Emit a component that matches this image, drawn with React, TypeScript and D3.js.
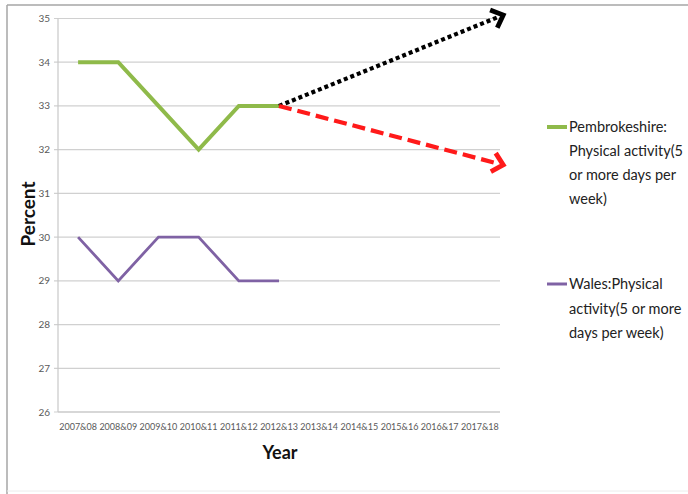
import React from "react";
import * as d3 from "d3";

const categories = ["2007&08","2008&09","2009&10","2010&11","2011&12","2012&13","2013&14","2014&15","2015&16","2016&17","2017&18"];
const pembrokeshire = [34, 34, 33, 32, 33, 33];
const wales = [30, 29, 30, 30, 29, 29];
const yTicks = [26, 27, 28, 29, 30, 31, 32, 33, 34, 35];
const projectionHigh = [33, 35.08];
const projectionLow = [33, 31.65];
const legendPembs = ["Pembrokeshire:", "Physical activity(5", "or more days per", "week)"];
const legendWales = ["Wales:Physical", "activity(5 or more", "days per week)"];

const W = 688, H = 494;
const plot = { left: 58, right: 500, top: 18.5, bottom: 412 };
const FONT = "Lato, 'Open Sans', sans-serif";

export default function App() {
  const x = d3.scaleBand<string>().domain(categories).range([plot.left, plot.right]).padding(0);
  const bw = x.bandwidth();
  const cx = (c: string) => (x(c) as number) + bw / 2;
  const y = d3.scaleLinear().domain([26, 35]).range([plot.bottom, plot.top]);

  const line = d3.line<number>().x((_, i) => cx(categories[i])).y((d) => y(d));

  const startCat = categories[pembrokeshire.length - 1];
  const endX = cx(categories[categories.length - 1]) + bw * 0.58;

  const arrow = (vals: number[], color: string, dash: string, key: string) => {
    const x0 = cx(startCat), y0 = y(vals[0]);
    const x1 = endX, y1 = y(vals[1]);
    const ang = Math.atan2(y1 - y0, x1 - x0);
    const len = 14, spread = Math.PI / 4.2;
    const a1x = x1 - len * Math.cos(ang - spread), a1y = y1 - len * Math.sin(ang - spread);
    const a2x = x1 - len * Math.cos(ang + spread), a2y = y1 - len * Math.sin(ang + spread);
    const sx = x1 - 4 * Math.cos(ang), sy = y1 - 4 * Math.sin(ang);
    return (
      <g key={key}>
        <line x1={x0} y1={y0} x2={sx} y2={sy} stroke={color} strokeWidth={4.2} strokeDasharray={dash} />
        <path d={`M${a1x},${a1y}L${x1},${y1}L${a2x},${a2y}`} fill="none" stroke={color} strokeWidth={4.8} strokeLinejoin="miter" />
      </g>
    );
  };

  return (
    <svg width={W} height={H} style={{ position: "absolute", left: 0, top: 0, background: "#fff" }}>
      <rect x={0} y={0} width={W} height={H} fill="#fff" />
      <line x1={7} y1={5} x2={W} y2={5} stroke="#a6a6a6" strokeWidth={1.5} />
      <line x1={7} y1={5} x2={7} y2={H} stroke="#a6a6a6" strokeWidth={1.5} />
      <line x1={7} y1={491} x2={W} y2={491} stroke="#ececec" strokeWidth={1} />

      {yTicks.map((t) => (
        <g key={t}>
          <line x1={plot.left - 4} x2={plot.right} y1={y(t)} y2={y(t)} stroke="#d0d0d0" strokeWidth={1.2} />
          <text x={plot.left - 8} y={y(t)} dy="0.35em" textAnchor="end" fontSize={10} fill="#595959" fontFamily={FONT}>{t}</text>
        </g>
      ))}
      <line x1={plot.left} x2={plot.left} y1={plot.top} y2={plot.bottom} stroke="#c8c8c8" strokeWidth={1.2} />
      <line x1={plot.left} x2={plot.right} y1={plot.bottom} y2={plot.bottom} stroke="#c8c8c8" strokeWidth={1.2} />

      {categories.map((c) => (
        <text key={c} x={cx(c)} y={plot.bottom + 18} textAnchor="middle" fontSize={9} fill="#595959" fontFamily={FONT}>{c}</text>
      ))}

      <path d={line(pembrokeshire) || ""} fill="none" stroke="#8fba4a" strokeWidth={4} strokeLinejoin="miter" />
      <path d={line(wales) || ""} fill="none" stroke="#7f62a4" strokeWidth={2.8} strokeLinejoin="miter" />

      {arrow(projectionHigh, "#000", "4,3", "hi")}
      {arrow(projectionLow, "#ff1a1a", "13,6", "lo")}

      <text x={280} y={453} dy="0.35em" textAnchor="middle" fontSize={18} fontWeight="bold" fill="#111" fontFamily={FONT}>Year</text>
      <text transform="translate(28,214) rotate(-90)" dy="0.35em" textAnchor="middle" fontSize={19} fontWeight="bold" fill="#111" fontFamily={FONT}>Percent</text>

      <line x1={547} x2={567} y1={127} y2={127} stroke="#8fba4a" strokeWidth={4} />
      {legendPembs.map((s, i) => (
        <text key={s} x={569} y={127 + i * 24} dy="0.35em" fontSize={14.5} fill="#222" fontFamily={FONT}>{s}</text>
      ))}
      <line x1={547} x2={567} y1={284} y2={284} stroke="#7f62a4" strokeWidth={3} />
      {legendWales.map((s, i) => (
        <text key={s} x={569} y={284 + i * 24.5} dy="0.35em" fontSize={14.5} fill="#222" fontFamily={FONT}>{s}</text>
      ))}
    </svg>
  );
}
